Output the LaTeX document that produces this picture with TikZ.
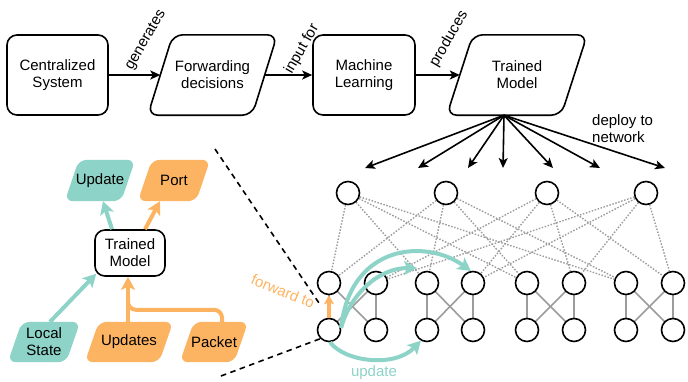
\documentclass[tikz,border=0pt]{standalone}
\usepackage{fontspec}
\setmainfont{Liberation Sans}
\usetikzlibrary{arrows.meta,backgrounds}

\definecolor{mint}{HTML}{8DD3C7}
\definecolor{peach}{HTML}{FDB462}
\definecolor{linkgrey}{HTML}{9C9C9C}

% slanted box around a text node: #1 path options, #2 node name, #3 half slant (pt)
\newcommand{\drawslant}[3]{%
  \path[#1] ([xshift=-#3pt]#2.south west) -- ([xshift=#3pt]#2.north west)
    -- ([xshift=#3pt]#2.north east) -- ([xshift=-#3pt]#2.south east) -- cycle;}

\begin{document}
\begin{tikzpicture}[x=1pt,y=-1pt,
  txt/.style={font=\fontsize{15}{17}\selectfont, align=center, inner sep=0pt},
  box/.style={draw, line width=1.6pt, rounded corners=10pt},
  outline/.style={draw, line width=1.6pt, rounded corners=10pt},
  flow/.style={line width=2.2pt, -{Stealth[length=10pt,width=9pt,inset=2.5pt]}},
  deploy/.style={line width=1.6pt, -{Stealth[length=10pt,width=9pt,inset=2.5pt]}},
  sw/.style={circle, draw, line width=1.6pt, fill=white, minimum size=23pt, inner sep=0pt},
  link/.style={draw=linkgrey, line width=1.6pt},
  uplink/.style={draw=linkgrey, line width=1.4pt, dash pattern=on 1.5pt off 1.6pt},
  dashline/.style={line width=1.6pt, dash pattern=on 5.5pt off 4.5pt},
  fat/.style={line width=4pt, -{Stealth[length=13pt,width=14pt,inset=3pt]}},
  slimfat/.style={line width=4pt, -{Stealth[length=9pt,width=10pt,inset=2pt]}},
]
\useasboundingbox (0,0) rectangle (688,381);

% ---------- pipeline ----------
\node[txt, box, minimum width=101pt, minimum height=80pt] (cs) at (57.5,75) {Centralized\\System};
\node[txt, minimum width=104pt, minimum height=80pt] (fd) at (212.5,75) {Forwarding\\decisions};
\drawslant{outline}{fd}{12.5}
\node[txt, box, minimum width=102pt, minimum height=80pt] (ml) at (364,75) {Machine\\Learning};
\node[txt, minimum width=114pt, minimum height=80pt] (tm) at (517,75) {Trained\\Model};
\drawslant{outline}{tm}{13}

\draw[flow] (cs) -- (fd);
\draw[flow] (fd) -- (ml);
\draw[flow] (ml) -- (tm);

\node[txt, rotate=60] (lgen) at (146,40) {generates};
\node[txt, rotate=60] (lin) at (302,49) {input for};
\node[txt, rotate=60] (lpro) at (449,39) {produces};

% ---------- deployment fan-out ----------
\coordinate (tmb) at ([xshift=-13pt]tm.south);
\foreach \n/\x in {d1/365,d2/418,d3/468,d4/503,d5/553,d6/600,d7/665}
  \coordinate (\n) at (\x,168);
\foreach \n in {d1,d2,d3,d4,d5,d6,d7}
  \draw[deploy] (tmb) -- (\n);
\node[txt, align=left, anchor=north west] (dep) at (592,114) {deploy to\\network};

% ---------- network ----------
\foreach \i/\x in {1/348,2/446,3/547,4/646}
  \node[sw] (t\i) at (\x,193) {};
\foreach \i/\x in {1/329,2/376,3/427,4/473,5/527,6/574,7/626,8/673} {
  \node[sw] (a\i) at (\x,283) {};
  \node[sw] (b\i) at (\x,330) {};
}
\begin{scope}[on background layer]
  \foreach \p/\q in {1/2,3/4,5/6,7/8} {
    \draw[link] (a\p) -- (b\p);
    \draw[link] (a\q) -- (b\q);
    \draw[link] (a\p) -- (b\q);
    \draw[link] (a\q) -- (b\p);
  }
  \foreach \t in {1,2}
    \foreach \a in {1,3,5,7}
      \draw[uplink] (t\t) -- (a\a);
  \foreach \t in {3,4}
    \foreach \a in {2,4,6,8}
      \draw[uplink] (t\t) -- (a\a);
\end{scope}

% zoom guides
\coordinate (gA) at (215,149);
\coordinate (gB) at (321,306);
\coordinate (gC) at (221,376);
\draw[dashline] (gA) -- (gB);
\draw[dashline] (gC) -- (b1.south west);

% traffic inside the network
\draw[slimfat, draw=peach] (b1.north) -- (a1.south);
\draw[fat, draw=mint] (b1.10) .. controls (350,295) and (378,268) .. ([shift={(-10pt,15pt)}]a3.center);
\draw[fat, draw=mint] (b1.10) .. controls (350,245) and (425,238) .. (a4.100);
\draw[fat, draw=mint] (b1.-85) .. controls (345,362) and (395,368) .. (b3.-120);
\node[txt, text=peach, rotate=-22] (fwdto) at (283,291) {forward to};
\node[txt, text=mint] (updl) at (374,373) {update};

% ---------- switch model ----------
\node[txt, box, minimum width=70pt, minimum height=46pt] (stm) at (130,253) {Trained\\Model};
\node[txt, minimum width=56pt, minimum height=41pt] (pupd) at (100,180.5) {Update};
\node[txt, minimum width=58pt, minimum height=41pt] (pport) at (174,180.5) {Port};
\node[txt, minimum width=58pt, minimum height=40pt] (pls) at (44,342) {Local\\State};
\node[txt, minimum width=74pt, minimum height=40pt] (pupds) at (129,342) {Updates};
\node[txt, minimum width=54pt, minimum height=40pt] (ppk) at (214,342) {Packet};
\begin{scope}[on background layer]
  \drawslant{fill=mint, rounded corners=8pt}{pupd}{7}
  \drawslant{fill=peach, rounded corners=8pt}{pport}{7}
  \drawslant{fill=mint, rounded corners=8pt}{pls}{7}
  \drawslant{fill=peach, rounded corners=8pt}{pupds}{7}
  \drawslant{fill=peach, rounded corners=8pt}{ppk}{7}
\end{scope}

\draw[fat, draw=mint] ([xshift=-18pt]stm.north) -- ([xshift=3pt]pupd.south);
\draw[fat, draw=peach] ([xshift=15pt]stm.north) -- ([xshift=-14pt]pport.south);
\draw[fat, draw=mint] ([xshift=6pt]pls.north) -- ([xshift=2pt,yshift=3pt]stm.south west);
\draw[fat, draw=peach] ([xshift=-1pt]pupds.north) -- ([xshift=-2pt]stm.south);
\draw[line width=4pt, draw=peach, rounded corners=8pt]
  ([xshift=8pt]ppk.north) |- ([xshift=-1pt,yshift=12pt]pupds.north)
  -- ([xshift=-1pt,yshift=26pt]pupds.north);
\end{tikzpicture}
\end{document}
